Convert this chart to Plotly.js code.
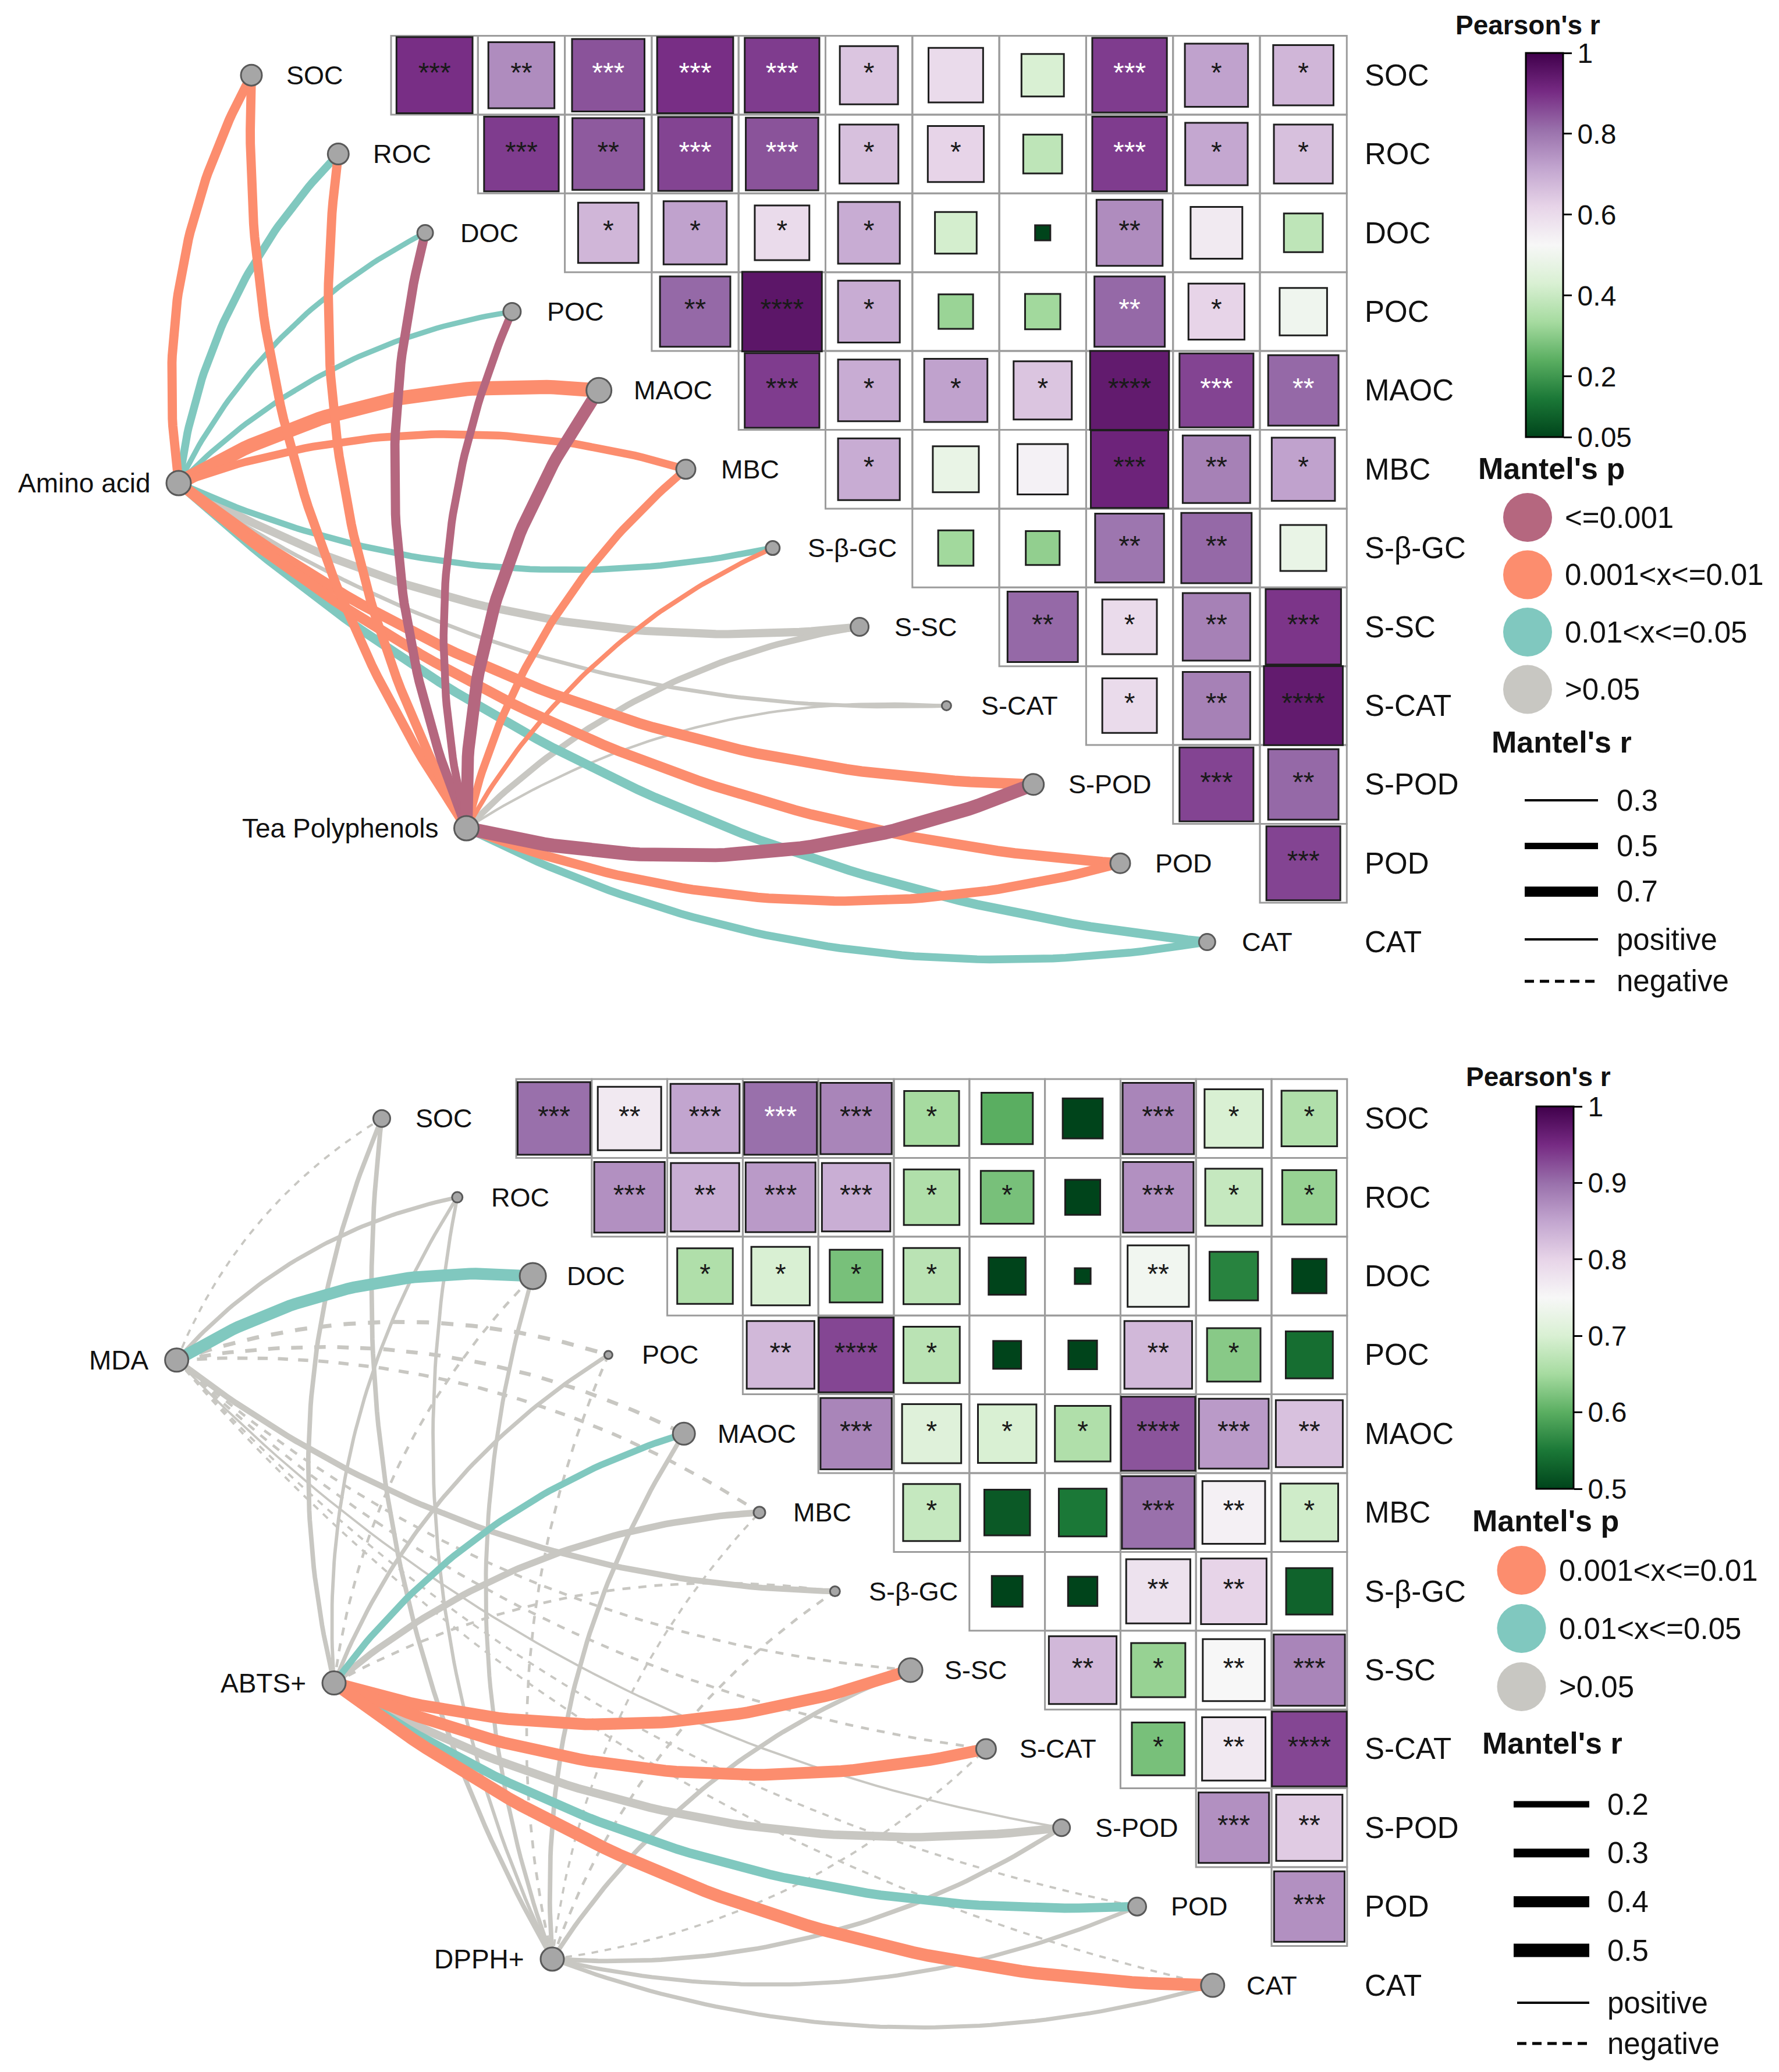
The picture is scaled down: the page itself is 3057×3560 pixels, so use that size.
<!DOCTYPE html>
<html>
<head>
<meta charset="utf-8">
<script src="https://cdn.plot.ly/plotly-3.0.1.min.js"></script>
<style>
html,body{margin:0;padding:0;background:#ffffff;}
#chart{width:3057px;height:3560px;}
</style>
</head>
<body>
<div id="chart"></div>
<script>
// ======================= DATA =======================
const variables = ["SOC","ROC","DOC","POC","MAOC","MBC","S-β-GC","S-SC","S-CAT","S-POD","POD","CAT"];

// upper-triangle Pearson's r: row i holds columns i+1 .. 11
const topCorr = [
  [0.90,0.76,0.85,0.90,0.88,0.65,0.60,0.43,0.88,0.72,0.68],
  [0.88,0.84,0.87,0.85,0.66,0.62,0.38,0.88,0.71,0.66],
  [0.68,0.72,0.60,0.70,0.42,0.05,0.76,0.56,0.38],
  [0.82,0.95,0.70,0.32,0.33,0.82,0.62,0.50],
  [0.88,0.70,0.72,0.65,0.94,0.87,0.82],
  [0.70,0.48,0.54,0.92,0.78,0.72],
  [0.33,0.31,0.80,0.82,0.48],
  [0.82,0.60,0.78,0.89],
  [0.60,0.78,0.94],
  [0.87,0.82],
  [0.87]
];
const topStars = [
  ["***","**","***","***","***","*","","","***","*","*"],
  ["***","**","***","***","*","*","","***","*","*"],
  ["*","*","*","*","","","**","",""],
  ["**","****","*","","","**","*",""],
  ["***","*","*","*","****","***","**"],
  ["*","","","***","**","*"],
  ["","","**","**",""],
  ["**","*","**","***"],
  ["*","**","****"],
  ["***","**"],
  ["***"]
];
const topWhiteStars = [[0,3],[0,4],[0,5],[0,9],[1,4],[1,5],[1,9],[3,9],[4,10],[4,11]];

const botCorr = [
  [0.90,0.77,0.85,0.90,0.88,0.65,0.60,0.44,0.88,0.70,0.66],
  [0.87,0.84,0.86,0.84,0.66,0.62,0.37,0.87,0.68,0.64],
  [0.66,0.70,0.62,0.67,0.40,0.10,0.74,0.56,0.36],
  [0.83,0.93,0.67,0.27,0.28,0.83,0.63,0.54],
  [0.88,0.71,0.70,0.66,0.92,0.86,0.82],
  [0.68,0.52,0.55,0.90,0.76,0.69],
  [0.31,0.29,0.78,0.80,0.53],
  [0.83,0.64,0.75,0.88],
  [0.62,0.77,0.93],
  [0.87,0.81],
  [0.87]
];
const botStars = [
  ["***","**","***","***","***","*","","","***","*","*"],
  ["***","**","***","***","*","*","","***","*","*"],
  ["*","*","*","*","","","**","",""],
  ["**","****","*","","","**","*",""],
  ["***","*","*","*","****","***","**"],
  ["*","","","***","**","*"],
  ["","","**","**",""],
  ["**","*","**","***"],
  ["*","**","****"],
  ["***","**"],
  ["***"]
];
const botWhiteStars = [[0,4]];

const pLevels = ["<=0.001","0.001<x<=0.01","0.01<x<=0.05",">0.05"];

// Mantel tests, top panel (targets in order of `variables`)
const topSources = ["Amino acid","Tea Polyphenols"];
const aminoMantelR = [0.65,0.58,0.45,0.45,0.90,0.58,0.50,0.60,0.38,0.72,0.70,0.65];
const aminoMantelP = ["0.001<x<=0.01","0.01<x<=0.05","0.01<x<=0.05","0.01<x<=0.05","0.001<x<=0.01","0.001<x<=0.01","0.01<x<=0.05",">0.05",">0.05","0.001<x<=0.01","0.001<x<=0.01","0.01<x<=0.05"];
const teaMantelR = [0.65,0.65,0.65,0.58,0.80,0.58,0.42,0.50,0.31,0.88,0.66,0.58];
const teaMantelP = ["0.001<x<=0.01","0.001<x<=0.01","<=0.001","<=0.001","<=0.001","0.001<x<=0.01","0.001<x<=0.01",">0.05",">0.05","<=0.001","0.001<x<=0.01","0.01<x<=0.05"];

// Mantel tests, bottom panel (negative r = negative relation)
const botSources = ["MDA","ABTS+","DPPH+"];
const mdaMantelR = [-0.02,0.10,0.43,-0.10,-0.09,-0.07,0.18,-0.04,-0.04,0.02,-0.02,-0.02];
const mdaMantelP = [">0.05",">0.05","0.01<x<=0.05",">0.05",">0.05",">0.05",">0.05",">0.05",">0.05",">0.05",">0.05",">0.05"];
const abtsMantelR = [0.12,0.07,-0.04,0.10,0.21,0.21,-0.04,0.43,0.43,0.29,0.32,0.46];
const abtsMantelP = [">0.05",">0.05",">0.05",">0.05","0.01<x<=0.05",">0.05",">0.05","0.001<x<=0.01","0.001<x<=0.01",">0.05","0.01<x<=0.05","0.001<x<=0.01"];
const dpphMantelR = [0.12,0.07,0.10,-0.04,0.12,-0.02,-0.04,0.12,-0.02,0.12,0.10,0.10];
const dpphMantelP = [">0.05",">0.05",">0.05",">0.05",">0.05",">0.05",">0.05",">0.05",">0.05",">0.05",">0.05",">0.05"];

const topRBreaks = [0.3,0.5,0.7];
const botRBreaks = [0.2,0.3,0.4,0.5];
const topCbTicks = [0.05,0.2,0.4,0.6,0.8,1];
const botCbTicks = [0.5,0.6,0.7,0.8,0.9,1];

// ======================= STYLE / LAYOUT =======================
const W = 3057, H = 3560;
const FONT = '"Liberation Sans", Arial, sans-serif';
const pColor = {"<=0.001":"#B5677F","0.001<x<=0.01":"#FC8D6E","0.01<x<=0.05":"#80C8BF",">0.05":"#C8C7C2"};
const PRGn = [[0,'#00441b'],[0.1,'#1b7837'],[0.2,'#5aae61'],[0.3,'#a6dba0'],[0.4,'#d9f0d3'],[0.5,'#f7f7f7'],
              [0.6,'#e7d4e8'],[0.7,'#c2a5cf'],[0.8,'#9970ab'],[0.9,'#762a83'],[1,'#40004b']];
const topNodeSize = [36,36,27,30,43,33,24,31,16,36,34,28];
const botNodeSize = [29,18,45,14,38,20,17,41,34,29,31,40];

const panels = [
  {
    xa:'x', ya:'y', xk:'xaxis', yk:'yaxis', pxTop:0, pxBot:1780,
    gridLeft:672, cw:149.3, rowTop:61.5, ch:135.4,
    nodeOffset:240, labelGap:62, rightLabelX:2341, sqA:20, sqB:123,
    corr:topCorr, stars:topStars, white:topWhiteStars, nodeSize:topNodeSize,
    widthFn: r => Math.max(1.5, 33.75*Math.abs(r) - 6.1),
    sources:[
      {name:topSources[0], r:aminoMantelR, p:aminoMantelP, pos:[307,830], size:42, split:5},
      {name:topSources[1], r:teaMantelR, p:teaMantelP, pos:[801.5,1423], size:42, split:8}
    ],
    cmin:0.05, cmax:1, ticks:topCbTicks,
    leg:{pearson:[2625,43], cbX:2622, cbTop:91, cbBot:751, mp:[2666,805], circX:2625, circY0:889, circDy:98.5,
         circLabX:2687, mr:[2683,1275], lineX0:2620, lineX1:2746, lineY0:1375, lineDy:78.5, lineLabX:2776,
         posY:1614, negY:1686, pnX0:2620, pnX1:2746},
    rBreaks:topRBreaks
  },
  {
    xa:'x2', ya:'y2', xk:'xaxis2', yk:'yaxis2', pxTop:1780, pxBot:3560,
    gridLeft:887, cw:129.8, rowTop:1854, ch:135.4,
    nodeOffset:231, labelGap:60, rightLabelX:2341, sqA:15, sqB:122,
    corr:botCorr, stars:botStars, white:botWhiteStars, nodeSize:botNodeSize,
    widthFn: r => Math.max(1.5, 40*Math.abs(r) + 3),
    sources:[
      {name:botSources[0], r:mdaMantelR, p:mdaMantelP, pos:[303.6,2336.8], size:40, split:5},
      {name:botSources[1], r:abtsMantelR, p:abtsMantelP, pos:[574,2891.6], size:40, split:6},
      {name:botSources[2], r:dpphMantelR, p:dpphMantelP, pos:[949,3366], size:40, split:7}
    ],
    cmin:0.5, cmax:1, ticks:botCbTicks,
    leg:{pearson:[2643,1850], cbX:2640, cbTop:1901, cbBot:2558, mp:[2656,2613], circX:2614.5, circY0:2698, circDy:100,
         circLabX:2677, mr:[2667,2995], lineX0:2601, lineX1:2731, lineY0:3100, lineDy:83.7, lineLabX:2760,
         posY:3441, negY:3511, pnX0:2607, pnX1:2731},
    rBreaks:botRBreaks
  }
];

const traces = [], shapes = [], annotations = [];
const layout = {
  width:W, height:H, margin:{l:0,r:0,t:0,b:0}, paper_bgcolor:'#ffffff', plot_bgcolor:'rgba(0,0,0,0)',
  showlegend:false, hovermode:false, font:{family:FONT, color:'#111'}
};
const PX = x => x / W;
const PY = y => 1 - y / H;

function text(x, y, str, size, opts) {
  annotations.push(Object.assign({xref:'paper', yref:'paper', x:PX(x), y:PY(y), text:str, showarrow:false,
    xanchor:'center', yanchor:'middle', font:{family:FONT, size:size, color:'#111'}}, opts || {}));
}

panels.forEach(cfg => {
  const toPx = (x, y) => [cfg.gridLeft + (x - 0.5) * cfg.cw, cfg.rowTop + (y + 0.5) * cfg.ch];
  const toData = (X, Y) => [0.5 + (X - cfg.gridLeft) / cfg.cw, (Y - cfg.rowTop) / cfg.ch - 0.5];

  // axes
  layout[cfg.xk] = {domain:[0,1], range:[toData(0,0)[0], toData(W,0)[0]], visible:false, fixedrange:true,
                    anchor: cfg.ya};
  layout[cfg.yk] = {domain:[1 - cfg.pxBot / H, 1 - cfg.pxTop / H],
                    range:[toData(0, cfg.pxBot)[1], toData(0, cfg.pxTop)[1]], visible:false, fixedrange:true,
                    anchor: cfg.xa};

  const nodeX = variables.map((v, i) => i + 0.5 - cfg.nodeOffset / cfg.cw);
  const nodeY = variables.map((v, i) => i);

  // ---- links (Mantel) ----
  const links = [];
  cfg.sources.forEach(src => {
    src.r.forEach((r, t) => links.push({src, t, r, p: src.p[t]}));
  });
  const rank = {">0.05":0, "0.01<x<=0.05":1, "0.001<x<=0.01":2, "<=0.001":3};
  links.sort((a, b) => rank[a.p] - rank[b.p]);
  links.forEach(L => {
    const P0 = L.src.pos;
    const P2 = toPx(nodeX[L.t], nodeY[L.t]);
    const dx = P2[0] - P0[0], dy = P2[1] - P0[1];
    const len = Math.hypot(dx, dy);
    const left = [dy / len, -dx / len];
    const sign = L.t <= L.src.split ? 1 : -1;
    const k = 0.165 * len * sign;
    const C = [(P0[0] + P2[0]) / 2 + k * left[0], (P0[1] + P2[1]) / 2 + k * left[1]];
    const xs = [], ys = [];
    for (let s = 0; s <= 60; s++) {
      const u = s / 60, a = (1 - u) * (1 - u), b = 2 * (1 - u) * u, c = u * u;
      const d = toData(a * P0[0] + b * C[0] + c * P2[0], a * P0[1] + b * C[1] + c * P2[1]);
      xs.push(d[0]); ys.push(d[1]);
    }
    traces.push({type:'scatter', mode:'lines', x:xs, y:ys, xaxis:cfg.xa, yaxis:cfg.ya, cliponaxis:false,
      hoverinfo:'skip', line:{color:pColor[L.p], width:cfg.widthFn(L.r), dash: L.r < 0 ? 'dash' : 'solid'}});
  });

  // ---- nodes ----
  traces.push({type:'scatter', mode:'markers', x:nodeX, y:nodeY, xaxis:cfg.xa, yaxis:cfg.ya, cliponaxis:false,
    hoverinfo:'skip', marker:{size:cfg.nodeSize, opacity:1, color:'#A6A6A6', line:{color:'#595959', width:3}}});
  const srcXY = cfg.sources.map(s => toData(s.pos[0], s.pos[1]));
  traces.push({type:'scatter', mode:'markers', x:srcXY.map(d => d[0]), y:srcXY.map(d => d[1]),
    xaxis:cfg.xa, yaxis:cfg.ya, cliponaxis:false, hoverinfo:'skip',
    marker:{size:cfg.sources.map(s => s.size), opacity:1, color:'#A6A6A6', line:{color:'#595959', width:3}}});

  // ---- correlation grid + squares ----
  const hx = [], hy = [], hr = [], hs = [], ht = [], hc = [];
  cfg.corr.forEach((row, i) => {
    row.forEach((r, k) => {
      const j = i + 1 + k;
      shapes.push({type:'rect', xref:cfg.xa, yref:cfg.ya, x0:j - 0.5, x1:j + 0.5, y0:i - 0.5, y1:i + 0.5,
        line:{color:'#9c9c9c', width:3}, fillcolor:'rgba(0,0,0,0)', layer:'below'});
      hx.push(j); hy.push(i); hr.push(r);
      hs.push(cfg.sqA + cfg.sqB * Math.abs(r));
      ht.push(cfg.stars[i][k]);
      hc.push(cfg.white.some(w => w[0] === i && w[1] === j) ? '#ffffff' : '#1a1a1a');
    });
  });
  const L = cfg.leg;
  traces.push({type:'scatter', mode:'markers+text', x:hx, y:hy, xaxis:cfg.xa, yaxis:cfg.ya, cliponaxis:false,
    hoverinfo:'skip', text:ht, textposition:'middle center',
    textfont:{family:FONT, size:48, color:hc},
    marker:{symbol:'square', size:hs, opacity:1, color:hr, cmin:cfg.cmin, cmax:cfg.cmax, colorscale:PRGn,
      line:{color:'#1e1e1e', width:3}, showscale:true,
      colorbar:{x:PX(L.cbX), xanchor:'left', xref:'paper', xpad:0, ypad:0,
        y:PY((L.cbTop + L.cbBot) / 2), yanchor:'middle', yref:'paper',
        len:L.cbBot - L.cbTop, lenmode:'pixels', thickness:64, thicknessmode:'pixels',
        outlinewidth:3, outlinecolor:'#000', tickvals:cfg.ticks, ticktext:cfg.ticks.map(String),
        ticks:'outside', ticklen:14, tickwidth:3, tickcolor:'#000',
        tickfont:{family:FONT, size:48, color:'#111'}, title:{text:''}}}});

  // ---- text labels ----
  variables.forEach((v, i) => {
    annotations.push({xref:cfg.xa, yref:cfg.ya, x:nodeX[i], y:i, text:v, showarrow:false, xanchor:'left',
      yanchor:'middle', xshift:cfg.labelGap - 4, font:{family:FONT, size:45, color:'#111'}});
    annotations.push({xref:cfg.xa, yref:cfg.ya, x:toData(cfg.rightLabelX, 0)[0], y:i, text:v, showarrow:false,
      xanchor:'left', yanchor:'middle', xshift:2, font:{family:FONT, size:51, color:'#111'}});
  });
  cfg.sources.forEach((s, k) => {
    annotations.push({xref:cfg.xa, yref:cfg.ya, x:srcXY[k][0], y:srcXY[k][1], text:s.name, showarrow:false,
      xanchor:'right', yanchor:'middle', xshift:-46, font:{family:FONT, size:46, color:'#111'}});
  });

  // ---- legends ----
  text(L.pearson[0], L.pearson[1], "<b>Pearson's r</b>", 46);
  text(L.mp[0], L.mp[1], "<b>Mantel's p</b>", 52);
  const used = pLevels.filter(p => cfg.sources.some(s => s.p.includes(p)));
  used.forEach((p, k) => {
    const cy = L.circY0 + k * L.circDy;
    shapes.push({type:'circle', xref:'paper', yref:'paper', x0:PX(L.circX - 42), x1:PX(L.circX + 42),
      y0:PY(cy + 42), y1:PY(cy - 42), fillcolor:pColor[p], line:{width:0}});
    text(L.circLabX, cy, p.replace(/</g, '&lt;').replace(/>/g, '&gt;'), 51, {xanchor:'left'});
  });
  text(L.mr[0], L.mr[1], "<b>Mantel's r</b>", 52);
  cfg.rBreaks.forEach((rb, k) => {
    const y = L.lineY0 + k * L.lineDy;
    shapes.push({type:'line', xref:'paper', yref:'paper', x0:PX(L.lineX0), x1:PX(L.lineX1), y0:PY(y), y1:PY(y),
      line:{color:'#000', width:cfg.widthFn(rb)}});
    text(L.lineLabX, y, String(rb), 51, {xanchor:'left'});
  });
  shapes.push({type:'line', xref:'paper', yref:'paper', x0:PX(L.pnX0), x1:PX(L.pnX1), y0:PY(L.posY), y1:PY(L.posY),
    line:{color:'#000', width:4}});
  text(L.lineLabX, L.posY, 'positive', 51, {xanchor:'left'});
  shapes.push({type:'line', xref:'paper', yref:'paper', x0:PX(L.pnX0), x1:PX(L.pnX1), y0:PY(L.negY), y1:PY(L.negY),
    line:{color:'#000', width:5, dash:'16px,10px'}});
  text(L.lineLabX, L.negY, 'negative', 51, {xanchor:'left'});
});

layout.shapes = shapes;
layout.annotations = annotations;
Plotly.newPlot('chart', traces, layout, {staticPlot:true, displayModeBar:false});
</script>
</body>
</html>
